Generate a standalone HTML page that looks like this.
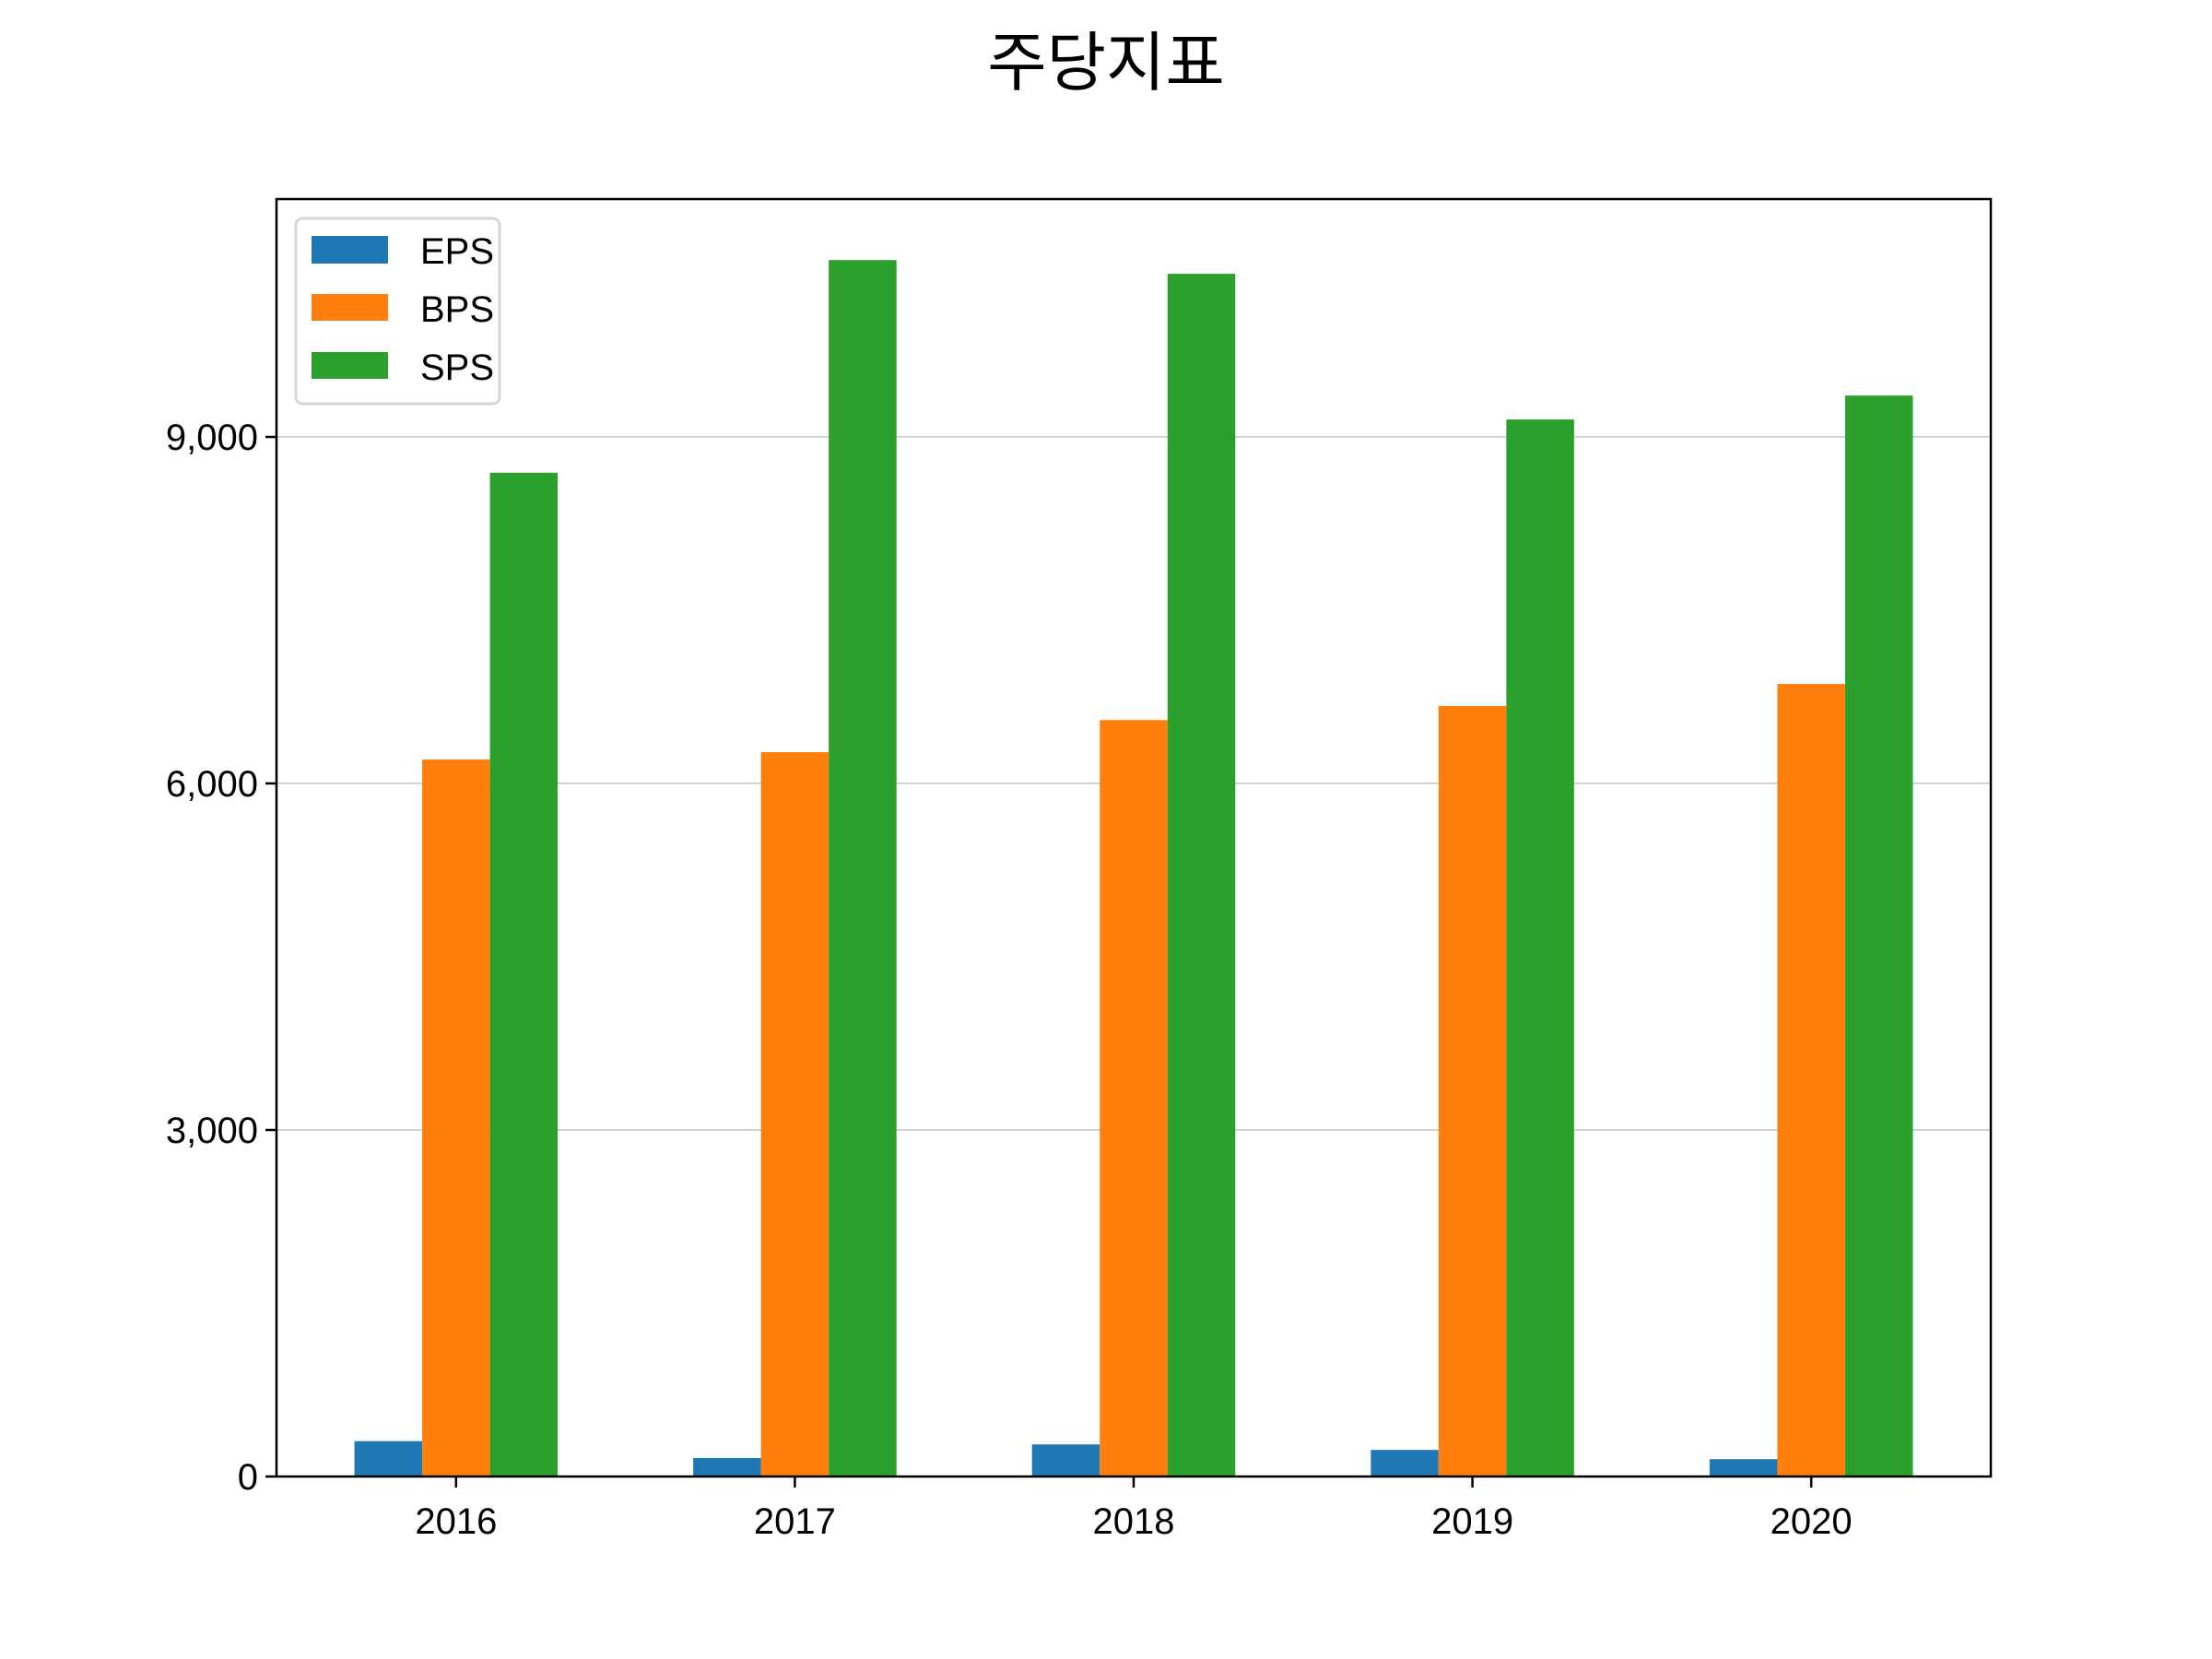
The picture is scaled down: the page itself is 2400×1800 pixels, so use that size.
<!DOCTYPE html>
<html><head><meta charset="utf-8"><style>
html,body{margin:0;padding:0;background:#fff;}
svg{display:block;}
text{font-family:"Liberation Sans","Noto Sans CJK KR",sans-serif;fill:#000;}
</style></head>
<body>
<svg id="chart" width="2400" height="1800" viewBox="0 0 2400 1800" xmlns="http://www.w3.org/2000/svg">
<text x="1200" y="92" text-anchor="middle" font-size="70" style="font-family:'Liberation Sans','Noto Sans CJK KR',sans-serif">주당지표</text>
<g id="grid"></g>
<g id="bars"></g>
<rect x="300" y="216" width="1860" height="1386" fill="none" stroke="#000" stroke-width="2.5"/>
<g id="axes"></g>
<g>
<rect x="321" y="237" width="221" height="201" rx="7" fill="#fff" fill-opacity="0.8" stroke="#d6d6d6" stroke-width="3"/>
<rect x="338" y="256" width="83" height="30" fill="#1f77b4"/>
<text x="456" y="286" font-size="40">EPS</text>
<rect x="338" y="319" width="83" height="29" fill="#ff7f0e"/>
<text x="456" y="349" font-size="40">BPS</text>
<rect x="338" y="382" width="83" height="29" fill="#2ca02c"/>
<text x="456" y="412" font-size="40">SPS</text>
</g>
</svg>
<script>
const categories = ["2016","2017","2018","2019","2020"];
const epsValues = [306, 160, 278, 230, 150];
const bpsValues = [6207, 6271, 6549, 6671, 6861];
const spsValues = [8690, 10531, 10412, 9151, 9358];
const yTicks = [0, 3000, 6000, 9000];
const yTickLabels = ["0","3,000","6,000","9,000"];

const NS = "http://www.w3.org/2000/svg";
const L = 300, R = 2160, T = 216, B = 1602;
const xMin = -0.53, xMax = 4.53, yMax = 11059;
function xScale(v){ return L + (v - xMin) / (xMax - xMin) * (R - L); }
function yScale(v){ return B - v / yMax * (B - T); }
function mk(tag, attrs, parent){ const e = document.createElementNS(NS, tag); for (const k in attrs) e.setAttribute(k, attrs[k]); parent.appendChild(e); return e; }

const grid = document.getElementById("grid");
const axes = document.getElementById("axes");
const bars = document.getElementById("bars");

yTicks.forEach((t, i) => {
  const y = yScale(t);
  if (t > 0) {
    const g = mk("line", {x1: L, x2: R, y1: y, y2: y, stroke: "#d3d3d3", "stroke-width": 2}, grid);
    
    
  }
  const tk = mk("line", {x1: L - 12, x2: L, y1: y, y2: y, stroke: "#000", "stroke-width": 2.5}, axes);
  
  
  const lb = mk("text", {x: L - 20, y: y + 14, "text-anchor": "end", "font-size": 40}, axes);
  lb.textContent = yTickLabels[i];
  
  
});

const series = [
  {vals: epsValues, color: "#1f77b4", off: -0.2, name: "eps"},
  {vals: bpsValues, color: "#ff7f0e", off: 0, name: "bps"},
  {vals: spsValues, color: "#2ca02c", off: 0.2, name: "sps"}
];
const bw = 0.2;
categories.forEach((c, i) => {
  series.forEach(s => {
    const x0 = xScale(i + s.off - bw / 2), x1 = xScale(i + s.off + bw / 2);
    const y = yScale(s.vals[i]);
    const r = mk("rect", {x: x0, y: y, width: x1 - x0, height: B - y, fill: s.color}, bars);
    
    
  });
  const x = xScale(i);
  const tk = mk("line", {x1: x, x2: x, y1: B, y2: B + 12, stroke: "#000", "stroke-width": 2.5}, axes);
  
  
  const lb = mk("text", {x: x, y: B + 62, "text-anchor": "middle", "font-size": 40}, axes);
  lb.textContent = c;
  
  
});
</script>
</body></html>
